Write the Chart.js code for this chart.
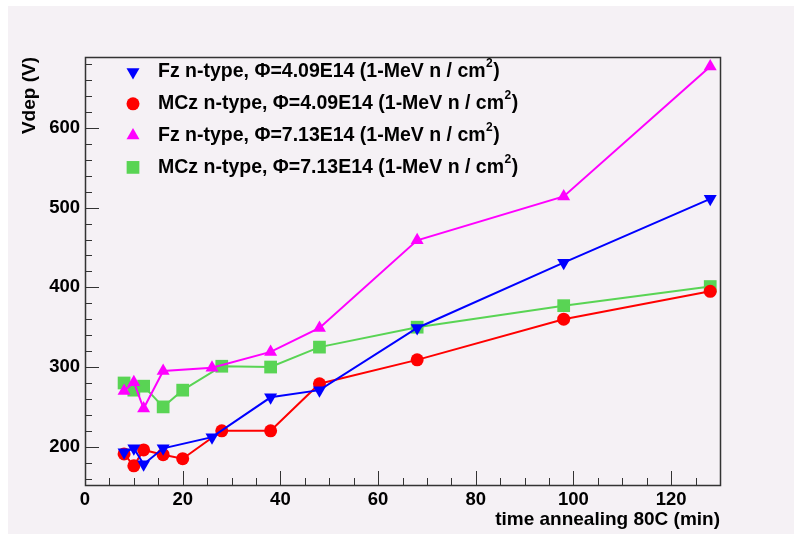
<!DOCTYPE html>
<html>
<head>
<meta charset="utf-8">
<script src="https://cdn.jsdelivr.net/npm/chart.js@4"></script>
<style>
  body { margin: 0; background: #fff; }
</style>
</head>
<body>
<canvas id="chart" width="794" height="534"></canvas>
<script>
// annealing times (min)
const fzTimes = [8, 10, 12, 16, 26, 38, 48, 68, 98, 128];
const mczTimes = [8, 10, 12, 16, 20, 28, 38, 48, 68, 98, 128];

// depletion voltage (V)
const fzLow = [193, 198, 178, 198, 212, 262, 271, 349, 431, 511];
const mczLow = [191, 176, 196, 190, 185, 220, 220, 279, 309, 360, 395];
const fzHigh = [270, 281, 248, 295, 299, 319, 349, 459, 514, 677];
const mczHigh = [280, 271, 276, 250, 271, 301, 300, 325, 350, 377, 401];

const seriesLabels = [
  "Fz n-type, \u03A6=4.09E14 (1-MeV n / cm\u00B2)",
  "MCz n-type, \u03A6=4.09E14 (1-MeV n / cm\u00B2)",
  "Fz n-type, \u03A6=7.13E14 (1-MeV n / cm\u00B2)",
  "MCz n-type, \u03A6=7.13E14 (1-MeV n / cm\u00B2)"
];

const xTicks = [0, 20, 40, 60, 80, 100, 120];
const yTicks = [200, 300, 400, 500, 600];

const FONT = "'Liberation Sans', Arial, sans-serif";

function pts(xs, ys) {
  return xs.map((x, i) => ({ x: x, y: ys[i] }));
}

function series(label, data, color, style, radius, rot) {
  return {
    label: label,
    data: data,
    borderColor: color,
    backgroundColor: color,
    borderWidth: 2,
    pointStyle: style,
    pointRadius: radius,
    pointRotation: rot || 0,
    pointBorderWidth: 0,
    pointBackgroundColor: color,
    tension: 0
  };
}

const background = {
  id: "background",
  beforeDraw(chart) {
    const ctx = chart.ctx;
    ctx.save();
    ctx.fillStyle = "#ffffff";
    ctx.fillRect(0, 0, chart.width, chart.height);
    ctx.fillStyle = "#f5f1f5";
    ctx.fillRect(8, 6, chart.width - 8, chart.height - 6);
    ctx.restore();
  }
};

// ROOT style frame with ticks pointing inward
const frame = {
  id: "frame",
  beforeDatasetsDraw(chart) {
    const { ctx, chartArea: a, scales: { x, y } } = chart;
    ctx.save();
    ctx.strokeStyle = "#333";
    ctx.lineWidth = 1;
    ctx.beginPath();
    for (let v = 0; v <= 130; v += 5) {
      const px = Math.round(x.getPixelForValue(v)) + 0.5;
      const len = v % 20 === 0 ? 14 : 7;
      ctx.moveTo(px, a.bottom);
      ctx.lineTo(px, a.bottom - len);
    }
    for (let v = 160; v <= 680; v += 20) {
      const py = Math.round(y.getPixelForValue(v)) + 0.5;
      const len = v % 100 === 0 ? 14 : 7;
      ctx.moveTo(a.left, py);
      ctx.lineTo(a.left + len, py);
    }
    ctx.stroke();
    ctx.lineWidth = 1.5;
    ctx.strokeRect(Math.round(a.left) + 0.5, Math.round(a.top) + 0.5,
      Math.round(a.right - a.left), Math.round(a.bottom - a.top));
    ctx.restore();
  }
};

const legend = {
  id: "rootLegend",
  afterDraw(chart) {
    const ctx = chart.ctx;
    ctx.save();
    chart.data.datasets.forEach((ds, i) => {
      const yy = 72 + i * 31.8;
      ctx.fillStyle = ds.backgroundColor;
      Chart.helpers.drawPoint(ctx, {
        pointStyle: ds.pointStyle,
        rotation: ds.pointRotation,
        radius: ds.pointRadius,
        borderWidth: 0
      }, 133, yy);
      const parts = ds.label.split("\u00B2");
      ctx.fillStyle = "#000";
      ctx.textBaseline = "middle";
      ctx.textAlign = "left";
      ctx.font = "bold 19.5px " + FONT;
      let tx = 158;
      ctx.fillText(parts[0], tx, yy);
      tx += ctx.measureText(parts[0]).width;
      ctx.font = "bold 12px " + FONT;
      ctx.fillText("2", tx + 0.5, yy - 8);
      tx += ctx.measureText("2").width + 1;
      ctx.font = "bold 19.5px " + FONT;
      ctx.fillText(parts[1], tx, yy);
    });
    ctx.restore();
  }
};

new Chart(document.getElementById("chart"), {
  type: "line",
  data: {
    datasets: [
      series(seriesLabels[0], pts(fzTimes, fzLow), "#0000ff", "triangle", 7.5, 180),
      series(seriesLabels[1], pts(mczTimes, mczLow), "#ff0000", "circle", 6.5),
      series(seriesLabels[2], pts(fzTimes, fzHigh), "#ff00ff", "triangle", 7.5),
      series(seriesLabels[3], pts(mczTimes, mczHigh), "#59d454", "rect", 9)
    ]
  },
  options: {
    responsive: false,
    animation: false,
    layout: { padding: { left: 0, top: 57, right: 74, bottom: 0 } },
    plugins: { legend: { display: false }, tooltip: { enabled: false } },
    scales: {
      x: {
        type: "linear",
        min: 0,
        max: 130,
        afterBuildTicks: s => { s.ticks = xTicks.map(v => ({ value: v })); },
        afterFit: s => { s.height = 49; },
        grid: { display: false, drawTicks: false },
        border: { display: false },
        ticks: { color: "#000", padding: 4, font: { family: FONT, size: 18.5, weight: "bold" } },
        title: {
          display: true,
          text: "time annealing 80C (min)",
          align: "end",
          color: "#000",
          padding: { top: 0, bottom: 5 },
          font: { family: FONT, size: 19, weight: "bold", lineHeight: 1 }
        }
      },
      y: {
        type: "linear",
        min: 152,
        max: 689,
        afterBuildTicks: s => { s.ticks = yTicks.map(v => ({ value: v })); },
        afterFit: s => { s.width = 85; },
        grid: { display: false, drawTicks: false },
        border: { display: false },
        ticks: { color: "#000", padding: 5, font: { family: FONT, size: 18.5, weight: "bold" } },
        title: {
          display: true,
          text: "Vdep (V)",
          align: "end",
          color: "#000",
          padding: { top: 20, bottom: 0 },
          font: { family: FONT, size: 19, weight: "bold", lineHeight: 1 }
        }
      }
    }
  },
  plugins: [background, frame, legend]
});
</script>
</body>
</html>
